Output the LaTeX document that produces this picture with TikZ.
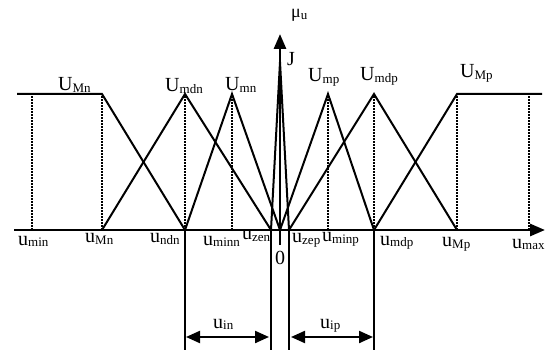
\documentclass[tikz,border=0pt]{standalone}
\usepackage{fontspec}
\setmainfont{Liberation Serif}
\usetikzlibrary{arrows.meta}
\newcommand{\lab}[2]{#1\raisebox{-1.5pt}{\fontsize{13}{13}\selectfont #2}}
\tikzset{
  lbl/.style={anchor=base west,inner sep=0pt,font=\fontsize{20}{20}\selectfont},
  axisline/.style={line width=2.8pt,-{Triangle[length=15pt,width=12pt]}},
  mf/.style={line width=2pt,line join=miter},
  dotline/.style={line width=1.8pt,dash pattern=on 1.5pt off 1.5pt},
  vline/.style={line width=1.7pt},
  dimarrow/.style={line width=2.2pt,{Triangle[length=14pt,width=12pt]}-{Triangle[length=14pt,width=12pt]}}
}
\begin{document}
\begin{tikzpicture}[x=1pt,y=-1pt]
\useasboundingbox (0,0) rectangle (545,352);
% key coordinates
\coordinate (ax0) at (14,230); \coordinate (ax1) at (545,230);
\coordinate (ay0) at (280,245); \coordinate (ay1) at (280,34);
\coordinate (bmin) at (32,230);  \coordinate (tmin) at (32,94);
\coordinate (bMn) at (102,230);  \coordinate (tMn) at (102,94);
\coordinate (lMn) at (17,94);
\coordinate (bndn) at (185,230); \coordinate (tndn) at (185,94);
\coordinate (bminn) at (232,230);\coordinate (tminn) at (232,94);
\coordinate (bzen) at (271,230);
\coordinate (bzero) at (280,230); \coordinate (tzero) at (280,62);
\coordinate (bzep) at (289,230);
\coordinate (bminp) at (328,230);\coordinate (tminp) at (328,94);
\coordinate (bmdp) at (374,230); \coordinate (tmdp) at (374,94);
\coordinate (bMp) at (457,230);  \coordinate (tMp) at (457,94);
\coordinate (rMp) at (542,94);
\coordinate (bmax) at (529,230); \coordinate (tmax) at (529,94);
% lower ends of the interval lines
\coordinate (dndn) at (185,350); \coordinate (dzen) at (271,350);
\coordinate (dzep) at (289,350); \coordinate (dmdp) at (374,350);
% dotted verticals
\foreach \p in {min,Mn,ndn,minn,minp,mdp,Mp,max}
  \draw[dotline] (b\p) -- (t\p);
% membership functions
\draw[mf] (lMn) -- (tMn) -- (bndn);
\draw[mf] (bMn) -- (tndn) -- (bzen);
\draw[mf] (bndn) -- (tminn) -- (bzero);
\draw[mf] (bzen) -- (tzero) -- (bzep);
\draw[mf] (bzero) -- (tminp) -- (bmdp);
\draw[mf] (bzep) -- (tmdp) -- (bMp);
\draw[mf] (bmdp) -- (tMp) -- (rMp);
% axes
\draw[axisline] (ax0) -- (ax1);
\draw[axisline] (ay0) -- (ay1);
% interval lines
\draw[vline] (bndn) -- (dndn);
\draw[vline] (bzen) -- (dzen);
\draw[vline] (bzep) -- (dzep);
\draw[vline] (bmdp) -- (dmdp);
\coordinate (inL) at (186,337); \coordinate (inR) at (269,337);
\coordinate (ipL) at (291,337); \coordinate (ipR) at (373,337);
\draw[dimarrow] (inL) -- (inR);
\draw[dimarrow] (ipL) -- (ipR);
% top labels
\node[lbl] (LUMn) at (58,91) {\lab{U}{Mn}};
\node[lbl] (LUmdn) at (165,92) {\lab{U}{mdn}};
\node[lbl] (LUmn) at (225,91) {\lab{U}{mn}};
\node[lbl] (LUmp) at (308,82) {\lab{U}{mp}};
\node[lbl] (LUmdp) at (360,81) {\lab{U}{mdp}};
\node[lbl] (LUMp) at (460,78) {\lab{U}{Mp}};
\node[lbl,font=\fontsize{18}{18}\selectfont] (Lmu) at (291,18) {μ\raisebox{-1.5pt}{\fontsize{13}{13}\selectfont u}};
\node[lbl] (LJ) at (287,66) {J};
% bottom labels
\node[lbl] (Lumin) at (18,245) {\lab{u}{min}};
\node[lbl] (LuMn) at (85,243) {\lab{u}{Mn}};
\node[lbl] (Lundn) at (150,243) {\lab{u}{ndn}};
\node[lbl] (Luminn) at (203,245) {\lab{u}{minn}};
\node[lbl] (Luzen) at (242,240) {\lab{u}{zen}};
\node[lbl] (L0) at (275,265) {0};
\node[lbl] (Luzep) at (292,243) {\lab{u}{zep}};
\node[lbl] (Luminp) at (322,242) {\lab{u}{minp}};
\node[lbl] (Lumdp) at (380,245) {\lab{u}{mdp}};
\node[lbl] (LuMp) at (442,247) {\lab{u}{Mp}};
\node[lbl] (Lumax) at (512,248) {\lab{u}{max}};
\node[lbl] (Luin) at (213,328) {\lab{u}{in}};
\node[lbl] (Luip) at (320,328) {\lab{u}{ip}};
\end{tikzpicture}
\end{document}
